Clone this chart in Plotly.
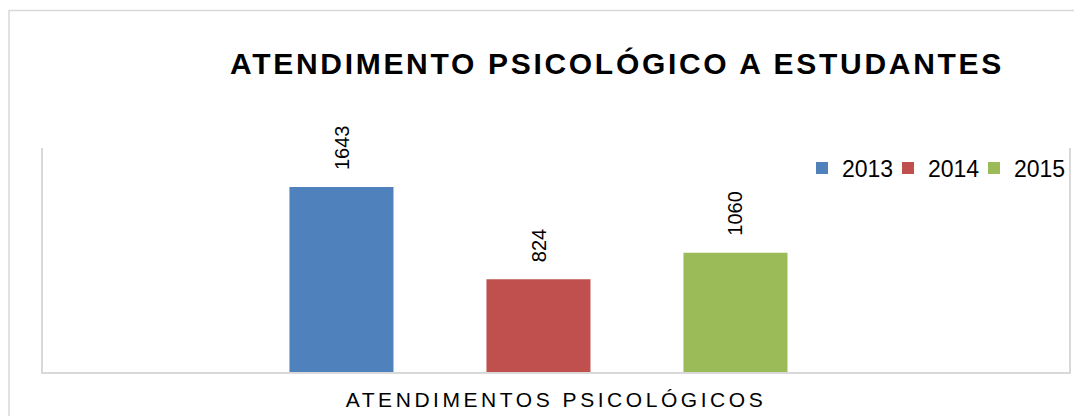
import plotly.graph_objects as go

# ---- data ----
years = ["2013", "2014", "2015"]
values = [1643, 824, 1060]
colors = ["#4F81BD", "#C0504D", "#9BBB59"]
category_label = "ATENDIMENTOS PSICOLÓGICOS"
title_text = "ATENDIMENTO PSICOLÓGICO A ESTUDANTES"

W, H = 1074, 416
ml, mr, mt, mb = 43, 5, 148, 44
pw, ph = W - ml - mr, H - mt - mb
FONT = "Liberation Sans, Arial, sans-serif"


def px_x(p):
    return (p - ml) / pw


def px_y(p):
    return (H - mb - p) / ph


fig = go.Figure()
n = len(years)
for i, (yr, v, c) in enumerate(zip(years, values, colors)):
    fig.add_trace(go.Bar(x=[yr], y=[v], name=yr,
                         legendwidth=41 if i < n - 1 else 62,
                         marker=dict(color=c, line=dict(width=0))))
    fig.add_annotation(x=i, y=v, text=str(v), textangle=-90, showarrow=False,
                       xref="x", yref="y",
                       xanchor="center", yanchor="bottom", yshift=15,
                       font=dict(family=FONT, size=20, color="#000000"))

# outer chart border
fig.add_shape(type="rect", xref="paper", yref="paper",
              x0=px_x(9), x1=px_x(1085), y0=px_y(430), y1=px_y(10.5),
              line=dict(color="#D9D9D9", width=1.5), layer="below")

fig.update_layout(
    width=W, height=H,
    margin=dict(l=ml, r=mr, t=mt, b=mb, pad=0, autoexpand=False),
    paper_bgcolor="white", plot_bgcolor="white",
    barmode="overlay", bargap=0.472,
    font=dict(family=FONT, color="#000000"),
    title=dict(text=f'<span style="letter-spacing:2.7px"><b>{title_text}</b></span>',
               x=px_x(617), xanchor="center", xref="paper",
               y=1 - 63 / H, yanchor="middle", yref="container",
               font=dict(family=FONT, size=30, color="#000000")),
    legend=dict(orientation="h", x=px_x(802), xanchor="left",
                y=px_y(168), yanchor="middle",
                font=dict(family=FONT, size=23, color="#000000"),
                bgcolor="rgba(0,0,0,0)", itemclick=False),
    xaxis=dict(type="category", range=[-1.515, 3.693],
               showticklabels=False, ticks="", showgrid=False, zeroline=False,
               showline=True, linecolor="#D9D9D9", linewidth=2,
               title=dict(text=f'<span style="letter-spacing:3.55px">{category_label}</span>',
                          font=dict(family=FONT, size=21, color="#000000"),
                          standoff=19)),
    yaxis=dict(range=[0, 1990], showticklabels=False, ticks="", showgrid=False,
               zeroline=False, showline=True, mirror=True,
               linecolor="#D9D9D9", linewidth=1.5),
)

fig.write_html("out.html", config={"displayModeBar": False},
               post_script="document.body.style.margin='0';document.body.style.overflow='hidden';")
